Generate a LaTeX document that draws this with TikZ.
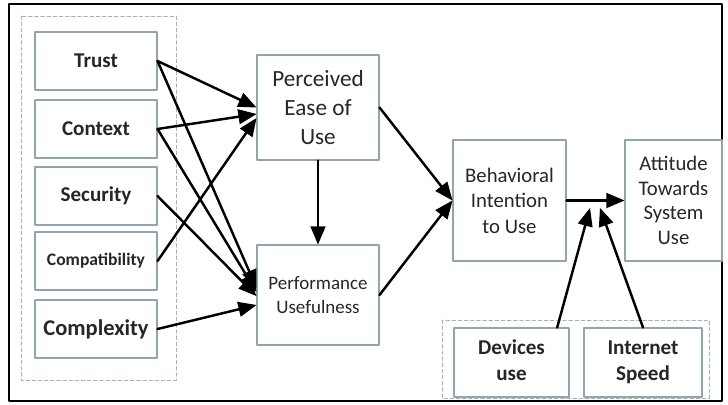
\documentclass[tikz,border=0pt]{standalone}
\usepackage{fontspec}
\setmainfont{Carlito}
\usepackage{xcolor}
\usepackage{tikz}
\usetikzlibrary{arrows}
\definecolor{boxline}{RGB}{145,165,175}
\definecolor{grpline}{RGB}{165,175,185}

\begin{document}
\begin{tikzpicture}[line cap=round,line join=round,>=triangle 45,x=0.02cm,y=-0.02cm,
	box/.style={draw=boxline,line width=0.6pt,align=center,inner sep=1pt,text=black!85},
	lbox/.style={box,minimum width=2.44cm,minimum height=1.16cm,font=\bfseries\fontsize{12}{14}\selectfont},
	grp/.style={grpline,dash pattern=on 2pt off 1.5pt,line width=0.5pt},
	conn/.style={->,line width=1.4pt}]
			\useasboundingbox (0,0) rectangle (728,405);
			\draw [line width=1pt] (9,4) rectangle (722,401);
			\draw [grp] (21,16) rectangle (176,380);
			\draw [grp] (442,320) rectangle (709,398);
			\node[lbox] (trust) at (96,61) {Trust};
			\node[lbox] (context) at (96,129) {Context};
			\node[lbox] (security) at (96,196) {Security};
			\node[lbox,font=\bfseries\fontsize{10}{12}\selectfont] (compat) at (96,261) {Compatibility};
			\node[lbox,font=\bfseries\fontsize{12.8}{15}\selectfont] (complex) at (96,329) {Complexity};
			\node[box,minimum width=2.44cm,minimum height=2.1cm,font=\fontsize{13.2}{16.5}\selectfont] (peou) at (318,107.5) {Perceived\\Ease of\\Use};
			\node[box,minimum width=2.44cm,minimum height=2.0cm,font=\fontsize{10.8}{13.5}\selectfont] (pu) at (318,295) {Performance\\Usefulness};
			\node[box,minimum width=2.26cm,minimum height=2.42cm,font=\fontsize{11.8}{14.5}\selectfont] (bi) at (509.5,200.5) {Behavioral\\Intention\\to Use};
			\node[box,minimum width=1.94cm,minimum height=2.42cm,font=\fontsize{11.8}{14}\selectfont] (att) at (673.5,200.5) {Attitude\\Towards\\System\\Use};
			\node[box,minimum width=2.3cm,minimum height=1.38cm,font=\bfseries\fontsize{12}{14.5}\selectfont] (dev) at (511.5,362.5) {\strut Devices\\use\strut};
			\node[box,minimum width=2.36cm,minimum height=1.38cm,font=\bfseries\fontsize{12}{14.5}\selectfont] (inet) at (643,362.5) {\strut Internet\\Speed\strut};
			\coordinate (devtip) at (590,208);
			\coordinate (inettip) at (600,208);
			% factors to the two perceptions
			\draw [conn] (trust.east) -- (peou.west);
			\draw [conn] (context.east) -- ([yshift=-3.7pt]peou.west);
			\draw [conn] (compat.east) -- ([yshift=-6pt]peou.west);
			\draw [conn] (trust.east) -- ([yshift=4pt]pu.west);
			\draw [conn] (context.east) -- ([yshift=1.7pt]pu.west);
			\draw [conn] (security.east) -- ([yshift=-0.6pt]pu.west);
			\draw [conn] (complex.east) -- ([yshift=-5.7pt]pu.west);
			% TAM part
			\draw [conn] (peou.south) -- (pu.north);
			\draw [conn] (peou.east) -- (bi.west);
			\draw [conn] (pu.east) -- (bi.west);
			\draw [conn] (bi.east) -- (att.west);
			\draw [conn] ([xshift=26pt]dev.north) -- (devtip);
			\draw [conn] (inet.north) -- (inettip);
		\end{tikzpicture}
\end{document}
